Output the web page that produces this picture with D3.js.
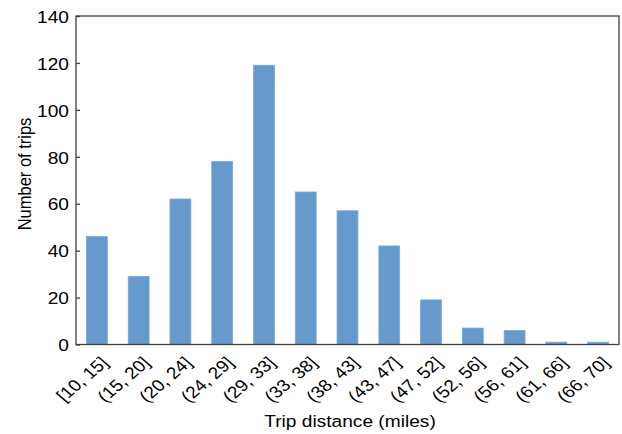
<!DOCTYPE html>
<html><head><meta charset="utf-8">
<script src="https://cdn.jsdelivr.net/npm/d3@7/dist/d3.min.js"></script>
<style>body{margin:0;background:#fff}svg{display:block}text{font-family:"Liberation Sans",Arial,sans-serif;fill:#000}</style>
</head><body><svg id="c" width="622" height="434"></svg>
<script>
const categories = ["[10, 15]","(15, 20]","(20, 24]","(24, 29]","(29, 33]","(33, 38]","(38, 43]","(43, 47]","(47, 52]","(52, 56]","(56, 61]","(61, 66]","(66, 70]"];
const trips = [46, 29, 62, 78, 119, 65, 57, 42, 19, 7, 6, 1, 1];
const yTicks = [0, 20, 40, 60, 80, 100, 120, 140];

const SX = 1.16, FS = 16.5;
const svg = d3.select("#c");
const L = 76, R = 619, T = 16, B = 344.5;
const x = d3.scaleBand().domain(categories).range([L, R]).paddingInner(0.5).paddingOuter(0.25);
const y = d3.scaleLinear().domain([0, 140]).range([B, T]);

svg.append("g").selectAll("rect").data(trips).join("rect")
  .attr("x", (d, i) => x(categories[i]))
  .attr("width", x.bandwidth())
  .attr("y", d => y(d))
  .attr("height", d => B - y(d))
  .attr("fill", "#6699cc")
  .attr("stroke", "#7ba8d6").attr("stroke-width", 0.8);

// frame
svg.append("rect").attr("x", L).attr("y", T).attr("width", R - L).attr("height", B - T)
  .attr("fill", "none").attr("stroke", "#404040").attr("stroke-width", 1.3);

// y axis
const ya = svg.append("g").attr("transform", `translate(${L},0)`)
  .call(d3.axisLeft(y).tickValues(yTicks).tickSize(-4));
ya.select(".domain").remove();
ya.selectAll("line").attr("stroke", "#404040").attr("stroke-width", 1.3);
ya.selectAll("text").attr("font-size", FS).attr("font-family", "Liberation Sans, Arial, sans-serif").attr("fill", "#000")
  .attr("x", 0).attr("dy", "0.38em").attr("text-anchor", "end")
  .attr("transform", `translate(-7,0) scale(${SX},1)`);

// x axis labels
const xa = svg.append("g").attr("transform", `translate(0,${B})`)
  .call(d3.axisBottom(x).tickSize(0).tickPadding(0));
xa.select(".domain").remove();
xa.selectAll("text")
  .attr("font-size", FS).attr("font-family", "Liberation Sans, Arial, sans-serif").attr("fill", "#000")
  .attr("text-anchor", "end")
  .attr("y", 0).attr("x", 0).attr("dy", "0.7em")
  .attr("transform", `translate(3,11) scale(${SX},1) rotate(-45)`);

svg.append("text").attr("transform", `translate(350,426.5) scale(${SX},1)`).attr("text-anchor", "middle")
  .attr("font-size", FS).text("Trip distance (miles)");
svg.append("text").attr("transform", `translate(31,174) scale(${SX},1) rotate(-90)`).attr("text-anchor", "middle")
  .attr("font-size", FS).text("Number of trips");
</script></body></html>
